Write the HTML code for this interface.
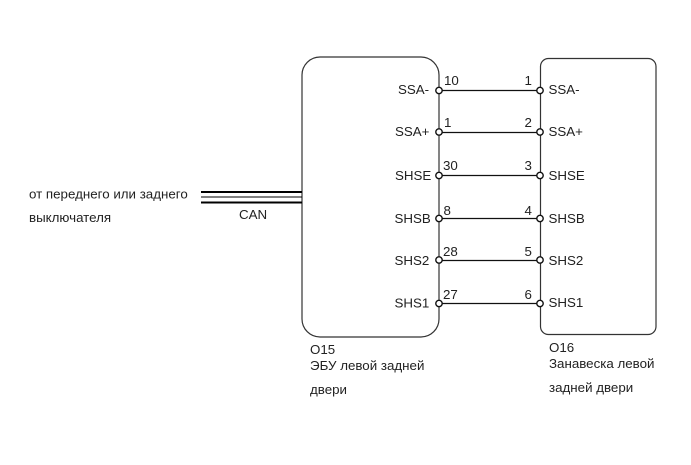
<!DOCTYPE html>
<html><head><meta charset="utf-8">
<style>html,body{margin:0;padding:0;background:#fff}svg{display:block}
text{font-family:"Liberation Sans",sans-serif;font-size:13.33px;fill:#222}</style></head>
<body>
<svg width="691" height="465" viewBox="0 0 691 465" xmlns="http://www.w3.org/2000/svg">
<rect width="691" height="465" fill="#fff"/>
<g fill="none" stroke="#333" stroke-width="1.2">
<rect x="302" y="57" width="137" height="280" rx="18" ry="18"/>
<rect x="540.5" y="58.5" width="115.5" height="276" rx="8" ry="8"/>
</g>
<g stroke="#111" stroke-width="1.2">
<line x1="439" y1="90.5" x2="540" y2="90.5"/>
<line x1="439" y1="132.5" x2="540" y2="132.5"/>
<line x1="439" y1="175.5" x2="540" y2="175.5"/>
<line x1="439" y1="218.5" x2="540" y2="218.5"/>
<line x1="439" y1="260.5" x2="540" y2="260.5"/>
<line x1="439" y1="303.5" x2="540" y2="303.5"/>
</g>
<g stroke="#000">
<line x1="201" y1="192" x2="302" y2="192" stroke-width="2"/>
<line x1="201" y1="197" x2="302" y2="197" stroke-width="1"/>
<line x1="201" y1="202.5" x2="302" y2="202.5" stroke-width="2"/>
</g>
<g fill="#fff" stroke="#111" stroke-width="1.4">
<circle cx="439" cy="90.5" r="3.2"/><circle cx="439" cy="132" r="3.2"/><circle cx="439" cy="175.5" r="3.2"/>
<circle cx="439" cy="218.5" r="3.2"/><circle cx="439" cy="260" r="3.2"/><circle cx="439" cy="303.5" r="3.2"/>
<circle cx="540" cy="90.5" r="3.2"/><circle cx="540" cy="132" r="3.2"/><circle cx="540" cy="175.5" r="3.2"/>
<circle cx="540" cy="218.5" r="3.2"/><circle cx="540" cy="260" r="3.2"/><circle cx="540" cy="303.5" r="3.2"/>
</g>
<text x="398" y="94">SSA-</text>
<text x="395" y="136">SSA+</text>
<text x="395" y="180">SHSE</text>
<text x="394.5" y="223">SHSB</text>
<text x="394.5" y="265">SHS2</text>
<text x="394.5" y="307.5">SHS1</text>
<text x="548.5" y="94">SSA-</text>
<text x="548.5" y="136">SSA+</text>
<text x="548.5" y="180">SHSE</text>
<text x="548.5" y="223">SHSB</text>
<text x="548.5" y="265">SHS2</text>
<text x="548.5" y="307">SHS1</text>
<text x="444" y="85">10</text>
<text x="444" y="127">1</text>
<text x="443" y="170">30</text>
<text x="443.5" y="215">8</text>
<text x="443" y="256">28</text>
<text x="443" y="299">27</text>
<text x="524.5" y="85">1</text>
<text x="524.5" y="127">2</text>
<text x="524.5" y="170">3</text>
<text x="524.5" y="215">4</text>
<text x="524.5" y="256">5</text>
<text x="524.5" y="299">6</text>
<text x="29" y="198.5">от переднего или заднего</text>
<text x="29" y="222">выключателя</text>
<text x="239" y="219">CAN</text>
<text x="310" y="354">O15</text>
<text x="310" y="370">ЭБУ левой задней</text>
<text x="310" y="394">двери</text>
<text x="549" y="352">O16</text>
<text x="549" y="368">Занавеска левой</text>
<text x="549" y="392">задней двери</text>
</svg>
</body></html>
